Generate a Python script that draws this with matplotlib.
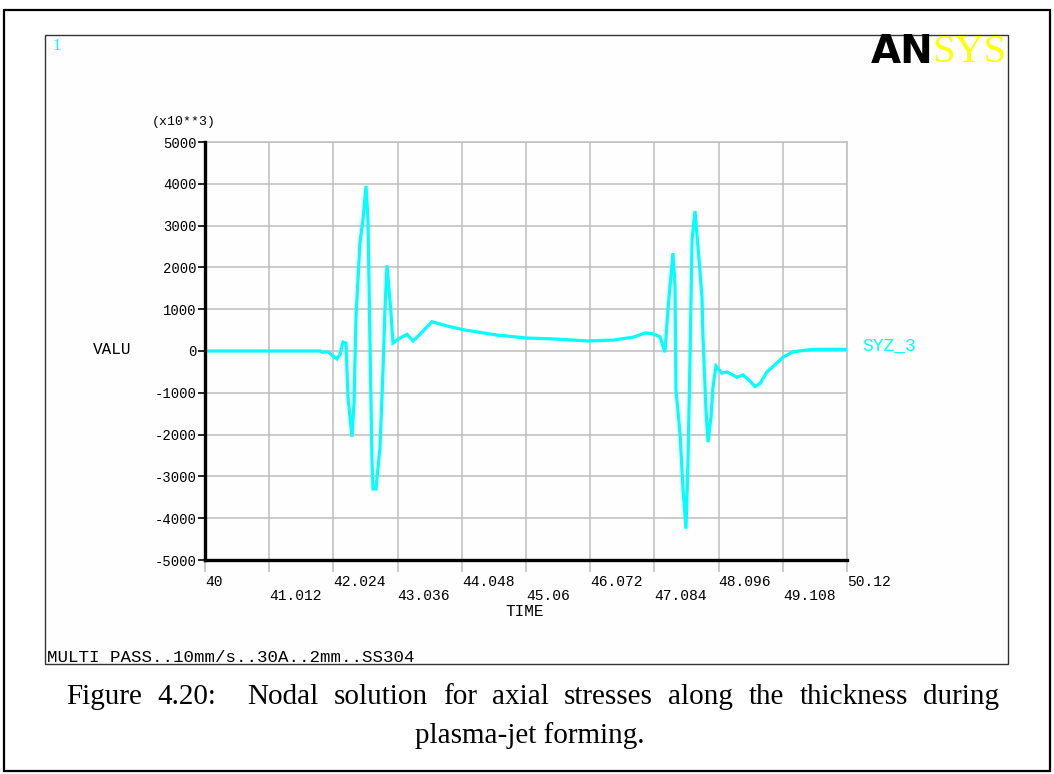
import matplotlib
matplotlib.use("Agg")
import matplotlib.pyplot as plt
from matplotlib.patches import Rectangle

# ---- data (time, value x10**3) ----
time = [40.000, 41.813, 41.844, 41.939, 42.018, 42.081, 42.128, 42.175, 42.223,
        42.238, 42.254, 42.317, 42.349, 42.380, 42.443, 42.491, 42.538, 42.569,
        42.601, 42.632, 42.648, 42.695, 42.759, 42.806, 42.837, 42.869, 42.932,
        42.963, 43.074, 43.184, 43.279, 43.389, 43.578, 43.815, 44.067, 44.603,
        45.076, 45.486, 46.021, 46.431, 46.746, 46.936, 47.046, 47.172, 47.251,
        47.298, 47.330, 47.377, 47.409, 47.424, 47.487, 47.535, 47.582, 47.613,
        47.645, 47.677, 47.724, 47.771, 47.834, 47.850, 47.897, 47.929, 47.976,
        48.008, 48.055, 48.150, 48.228, 48.386, 48.481, 48.591, 48.670, 48.748,
        48.859, 48.985, 49.111, 49.269, 49.584, 50.120]
syz3 = [0, 0, -30, -20, -120, -190, -80, 215, 190,
        -450, -1100, -2050, -1250, 800, 2600, 3150, 3950, 3150,
        190, -2600, -3300, -3300, -2300, -450, 1000, 2050, 900,
        190, 310, 400, 240, 400, 700, 600, 510, 380,
        310, 290, 240, 260, 330, 430, 420, 340, -30,
        1000, 1550, 2340, 1550, -930, -1960, -3300, -4250, -2680,
        -220, 2650, 3350, 2490, 1290, 340, -1410, -2180, -1580,
        -860, -360, -530, -500, -630, -570, -720, -850, -780,
        -500, -330, -150, -20, 40, 40]

xticks = [40, 41.012, 42.024, 43.036, 44.048, 45.06, 46.072, 47.084, 48.096, 49.108, 50.12]
xtick_labels = ['40', '41.012', '42.024', '43.036', '44.048', '45.06',
                '46.072', '47.084', '48.096', '49.108', '50.12']
yticks = [-5000, -4000, -3000, -2000, -1000, 0, 1000, 2000, 3000, 4000, 5000]
ytick_labels = ['-5000', '-4000', '-3000', '-2000', '-1000', '0',
                '1000', '2000', '3000', '4000', '5000']
caption_line1 = ['Figure', '4.20:', 'Nodal', 'solution', 'for', 'axial', 'stresses',
                 'along', 'the', 'thickness', 'during']
caption_line2 = 'plasma-jet forming.'

W, H = 1054, 774
fig = plt.figure(figsize=(W / 100, H / 100), dpi=100)
fig.patch.set_facecolor('white')

def px(x, y):
    return x / W, 1 - y / H

# outer frame
fig.patches.append(Rectangle(px(4, 771), (1050 - 4) / W, (771 - 10) / H,
                             transform=fig.transFigure, fill=False,
                             edgecolor='black', lw=1.6, zorder=-10))
# inner ANSYS window frame
fig.patches.append(Rectangle(px(45, 664), (1008 - 45) / W, (664 - 35) / H,
                             transform=fig.transFigure, fill=True, facecolor='#FEFEFE',
                             edgecolor='#333333', lw=1.0, zorder=-9))

ax = fig.add_axes([205 / W, 1 - 560 / H, (847 - 205) / W, (560 - 142) / H])
ax.set_facecolor('#FEFEFE')
ax.plot(time, syz3, color='#00FFFF', lw=2.3, solid_joinstyle='miter', zorder=3)
ax.set_xlim(40, 50.12)
ax.set_ylim(-5000, 5000)

grid_c = '#BEBEBE'
ax.set_xticks(xticks)
ax.set_yticks(yticks)
ax.grid(True, color=grid_c, lw=1.1)
ax.set_axisbelow(True)
for s in ['top', 'right']:
    ax.spines[s].set_color(grid_c)
    ax.spines[s].set_linewidth(1.1)
for s in ['left', 'bottom']:
    ax.spines[s].set_color('black')
    ax.spines[s].set_linewidth(2.4)
    ax.spines[s].set_zorder(4)

xl = [lab if i % 2 == 0 else '\n' + lab for i, lab in enumerate(xtick_labels)]
ax.set_xticklabels(xl, fontfamily='Liberation Mono', fontsize=10.5, linespacing=1.0,
                   ha='left')
ax.tick_params(axis='x', direction='out', length=8.5, width=1.1, color=grid_c, pad=2)
ax.set_yticklabels(ytick_labels, fontfamily='Liberation Mono', fontsize=10)
ax.tick_params(axis='y', direction='out', length=5, width=1.2, color='black', pad=1)

fig.text(*px(525, 611), 'TIME', ha='center', va='center',
         fontfamily='Liberation Mono', fontsize=11.5)
fig.text(*px(184, 122), '(x10**3)', ha='center', va='center',
         fontfamily='Liberation Mono', fontsize=9.5)
fig.text(*px(112, 349), 'VALU', ha='center', va='center',
         fontfamily='Liberation Mono', fontsize=11.5)
fig.text(*px(862, 346), 'SYZ_3', ha='left', va='center', color='#00FFFF',
         fontfamily='Liberation Mono', fontsize=13)
fig.text(*px(52, 46), '1', ha='left', va='center', color='#00FFFF',
         fontfamily='Liberation Serif', fontsize=12)
fig.text(*px(47, 657), 'MULTI PASS..10mm/s..30A..2mm..SS304', ha='left', va='center',
         fontfamily='Liberation Mono', fontsize=12.6)

# ANSYS logo
fig.text(*px(934, 52), 'AN', ha='right', va='center', color='black',
         fontfamily='DejaVu Sans', fontweight='heavy', fontsize=28)
fig.text(*px(932, 53), 'SYS', ha='left', va='center', color='#FFFF00',
         fontfamily='Liberation Serif', fontsize=29)

# caption: first line justified between the margins
cap_kw = dict(va='center', fontfamily='Liberation Serif', fontsize=21)
renderer = fig.canvas.get_renderer()
words = []
total = 0.0
for wd in caption_line1:
    t = fig.text(0, 0, wd, ha='left', **cap_kw)
    w = t.get_window_extent(renderer).width
    words.append((t, w))
    total += w
left_px, right_px = 66, 999
units = [2 if i == 1 else 1 for i in range(len(words) - 1)]
gap = (right_px - left_px - total) / sum(units)
xpos = left_px
for i, (t, w) in enumerate(words):
    t.set_position(px(xpos, 697))
    if i < len(units):
        xpos += w + gap * units[i]
fig.text(*px(530, 736), caption_line2, ha='center', **cap_kw)

fig.savefig('out.png', dpi=100, facecolor='white')
